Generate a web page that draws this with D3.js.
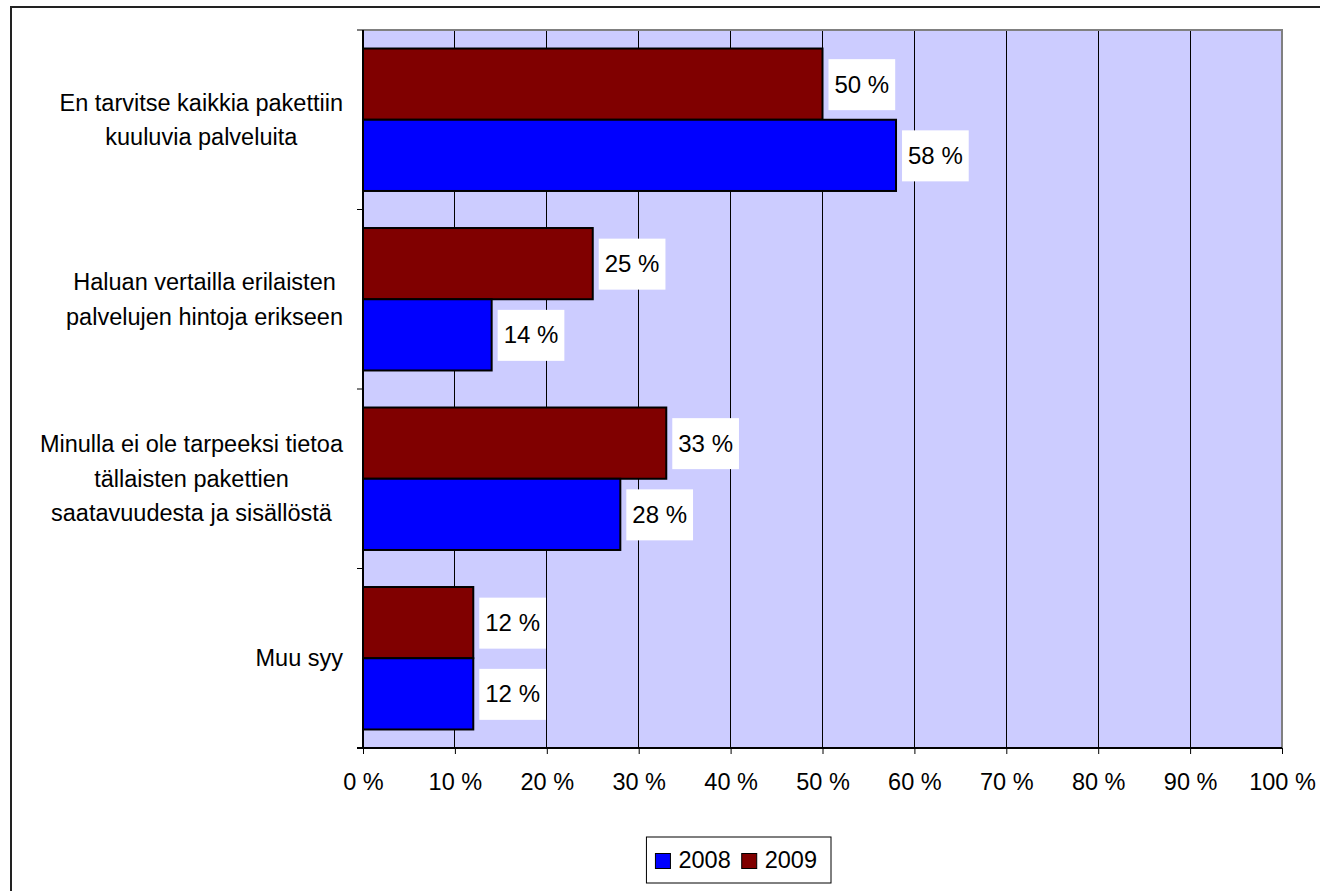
<!DOCTYPE html>
<html>
<head>
<meta charset="utf-8">
<script src="https://cdn.jsdelivr.net/npm/d3@7"></script>
<style>
  html, body { margin: 0; padding: 0; background: #fff; }
  svg { display: block; font-family: "Liberation Sans", Arial, sans-serif; }
</style>
</head>
<body>
<svg id="chart" width="1320" height="891"></svg>
<script>
// ---- data ----
const categories = [
  ["En tarvitse kaikkia pakettiin", "kuuluvia palveluita"],
  ["Haluan vertailla erilaisten", "palvelujen hintoja erikseen"],
  ["Minulla ei ole tarpeeksi tietoa", "tällaisten pakettien", "saatavuudesta ja sisällöstä"],
  ["Muu syy"]
];
const seriesNames = ["2008", "2009"];
const values2008 = [58, 14, 28, 12];
const values2009 = [50, 25, 33, 12];
const xTicks = [0, 10, 20, 30, 40, 50, 60, 70, 80, 90, 100];

const colors = { "2008": "#0000FF", "2009": "#800000" };

// ---- layout ----
const svg = d3.select("#chart");
const plot = { left: 363, right: 1282, top: 30, bottom: 748 };
const fontSize = 23.5;

// outer chart frame
svg.append("rect")
  .attr("x", 11).attr("y", 7).attr("width", 1340).attr("height", 920)
  .attr("fill", "#fff").attr("stroke", "#222").attr("stroke-width", 2);

const catKeys = categories.map((c, i) => i);
const x = d3.scaleLinear().domain([0, 100]).range([plot.left, plot.right]);
const y = d3.scaleBand().domain(catKeys).range([plot.top, plot.bottom]).padding(0);
const sub = d3.scaleBand().domain(["2009", "2008"]).range([0, y.bandwidth()])
  .paddingInner(0).paddingOuter(0.26);

// plot background
svg.append("rect")
  .attr("x", plot.left).attr("y", plot.top)
  .attr("width", plot.right - plot.left).attr("height", plot.bottom - plot.top)
  .attr("fill", "#CCCCFF");

// gridlines
svg.append("g").selectAll("line")
  .data(xTicks.filter(t => t > 0 && t < 100))
  .join("line")
  .attr("x1", d => x(d)).attr("x2", d => x(d))
  .attr("y1", plot.top).attr("y2", plot.bottom)
  .attr("stroke", "#000").attr("stroke-width", 1).attr("shape-rendering", "crispEdges");

// plot border top / right (gray)
svg.append("path")
  .attr("d", `M${plot.left},${plot.top}H${plot.right}V${plot.bottom}`)
  .attr("fill", "none").attr("stroke", "#808080").attr("stroke-width", 2);

// bars
const rows = [];
catKeys.forEach(i => {
  rows.push({ cat: i, s: "2009", v: values2009[i] });
  rows.push({ cat: i, s: "2008", v: values2008[i] });
});

svg.append("g").selectAll("rect")
  .data(rows)
  .join("rect")
  .attr("x", x(0))
  .attr("y", d => y(d.cat) + sub(d.s))
  .attr("width", d => x(d.v) - x(0))
  .attr("height", sub.bandwidth())
  .attr("fill", d => colors[d.s])
  .attr("stroke", "#000").attr("stroke-width", 2);

// data labels with white boxes
const lab = svg.append("g");
rows.forEach(d => {
  const cy = y(d.cat) + sub(d.s) + sub.bandwidth() / 2;
  const bx = x(d.v) + 6;
  const g = lab.append("g");
  const t = g.append("text")
    .attr("x", bx + 6).attr("y", cy)
    .attr("dy", "0.35em")
    .attr("font-size", 24)
    .attr("fill", "#000")
    .text(d.v + " %");
  const w = t.node().getComputedTextLength();
  g.insert("rect", "text")
    .attr("x", bx).attr("y", cy - 25)
    .attr("width", w + 12).attr("height", 51)
    .attr("fill", "#fff");
});

// x axis
const xAxis = d3.axisBottom(x).tickValues(xTicks).tickFormat(d => d + " %").tickSize(6).tickPadding(19);
const gx = svg.append("g").attr("transform", `translate(0,${plot.bottom})`).call(xAxis);
gx.select(".domain").attr("stroke", "#000").attr("stroke-width", 2).attr("d", `M${plot.left - 6},0H${plot.right}`);
gx.selectAll(".tick line").attr("stroke", "#000");
gx.selectAll(".tick text").attr("font-size", fontSize).attr("fill", "#000")
  .attr("font-family", "'Liberation Sans', Arial, sans-serif");

// y axis line and ticks
svg.append("line")
  .attr("x1", plot.left).attr("x2", plot.left)
  .attr("y1", plot.top).attr("y2", plot.bottom)
  .attr("stroke", "#000").attr("stroke-width", 2);
const yTickPos = catKeys.map(i => y(i)).concat([plot.bottom]);
svg.append("g").selectAll("line")
  .data(yTickPos)
  .join("line")
  .attr("x1", plot.left - 6).attr("x2", plot.left)
  .attr("y1", d => d).attr("y2", d => d)
  .attr("stroke", "#000").attr("stroke-width", 1);

// category labels: block right-aligned at axis, lines centered within block
const lineH = 34.5;
const catG = svg.append("g");
categories.forEach((lines, i) => {
  const cy = y(i) + y.bandwidth() / 2;
  const g = catG.append("g");
  const texts = lines.map((ln, k) => g.append("text")
    .attr("y", cy + (k - (lines.length - 1) / 2) * lineH)
    .attr("dy", "0.35em")
    .attr("font-size", fontSize)
    .attr("text-anchor", "middle")
    .attr("fill", "#000")
    .text(ln));
  const maxW = d3.max(texts, t => t.node().getComputedTextLength());
  const cx = 343 - maxW / 2;
  texts.forEach(t => t.attr("x", cx));
});

// legend (right edge anchored)
const leg = svg.append("g");
const legRight = 831, legTop = 837, legH = 46;
const items = leg.selectAll("g.item").data(seriesNames).join("g").attr("class", "item");
const legTexts = items.append("text")
  .attr("y", legTop + legH / 2)
  .attr("dy", "0.35em")
  .attr("font-size", fontSize)
  .attr("fill", "#000")
  .text(d => d);
const tw = legTexts.nodes().map(n => n.getComputedTextLength());
const sq = 15, gapSq = 8, gapItem = 11, padL = 9, padR = 14;
const totalW = padL + seriesNames.length * (sq + gapSq) + d3.sum(tw) + gapItem * (seriesNames.length - 1) + padR;
const legLeft = legRight - totalW;
leg.insert("rect", "g")
  .attr("x", legLeft).attr("y", legTop).attr("width", totalW).attr("height", legH)
  .attr("fill", "#fff").attr("stroke", "#000").attr("stroke-width", 1);
let lx = legLeft + padL;
items.each(function(d, i) {
  const g = d3.select(this);
  g.insert("rect", "text")
    .attr("x", lx).attr("y", legTop + legH / 2 - sq / 2 + 1)
    .attr("width", sq).attr("height", sq)
    .attr("fill", colors[d]).attr("stroke", "#000").attr("stroke-width", 1);
  g.select("text").attr("x", lx + sq + gapSq);
  lx += sq + gapSq + tw[i] + gapItem;
});
</script>
</body>
</html>
